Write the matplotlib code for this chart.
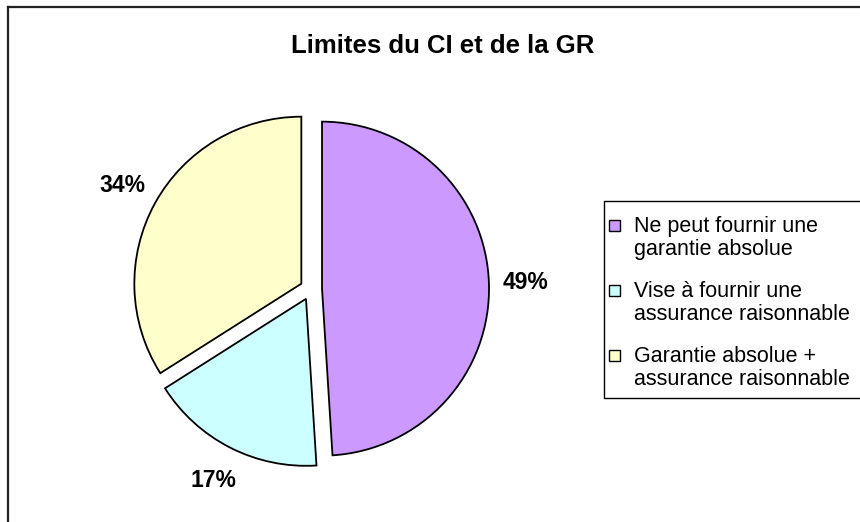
import matplotlib
matplotlib.use('Agg')
import matplotlib.pyplot as plt
from matplotlib.lines import Line2D
from matplotlib.patches import Rectangle

plt.rcParams['font.family'] = ['Liberation Sans', 'DejaVu Sans']

# ---------------------------------------------------------------------------
# Data
# ---------------------------------------------------------------------------

title = 'Limites du CI et de la GR'
labels = [
    'Ne peut fournir une\ngarantie absolue',
    'Vise à fournir une\nassurance raisonnable',
    'Garantie absolue +\nassurance raisonnable',
]
values = [49, 17, 34]
colors = ['#CC99FF', '#CCFFFF', '#FFFFCC']

W, H = 860, 522


def fx(x):
    return x / W


def fy(y):
    return 1 - y / H


fig = plt.figure(figsize=(W / 100, H / 100), dpi=100)

# pie axes: centre ~(311, 289) px, radius ~167 px
R = 167
cx, cy = 311, 289
span = 1.35
ax = fig.add_axes([fx(cx - span * R), fy(cy + span * R),
                   2 * span * R / W, 2 * span * R / H])

wedges, _, autotexts = ax.pie(
    values, colors=colors, startangle=90, counterclock=False,
    explode=[0.066] * len(values), radius=1.0,
    autopct='%1.0f%%', pctdistance=1.22,
    wedgeprops=dict(edgecolor='black', linewidth=1.3),
    textprops=dict(fontsize=16.5, fontweight='bold', color='black'),
)
# pie() resets the limits, so set them afterwards
ax.set_xlim(-span, span)
ax.set_ylim(-span, span)
ax.set_aspect('equal')
ax.axis('off')

fig.text(fx(443), fy(46), title, ha='center', va='center',
         fontsize=18.5, fontweight='bold')

# chart border (only top and left visible)
fig.add_artist(Line2D([fx(8), 1], [fy(6.5), fy(6.5)], color='#222222', lw=1.6))
fig.add_artist(Line2D([fx(8), fx(8)], [fy(6.5), 0], color='#222222', lw=1.6))

# legend box, drawn by hand so the marker sits on the first text line
box_l, box_t, box_b = 604, 201, 398
fig.add_artist(Rectangle((fx(box_l), fy(box_b)), 1, fy(box_t) - fy(box_b),
                         transform=fig.transFigure, facecolor='white',
                         edgecolor='black', linewidth=1.0))
entry_top = 216
entry_step = 65
for i, (lbl, col) in enumerate(zip(labels, colors)):
    y0 = entry_top + i * entry_step
    fig.add_artist(Rectangle((fx(609), fy(y0 + 15)), 11 / W, 11 / H,
                             transform=fig.transFigure, facecolor=col,
                             edgecolor='black', linewidth=1.0))
    fig.text(fx(634), fy(y0), lbl, ha='left', va='top', fontsize=15.5,
             linespacing=1.12)

fig.savefig('out.png', dpi=100)
